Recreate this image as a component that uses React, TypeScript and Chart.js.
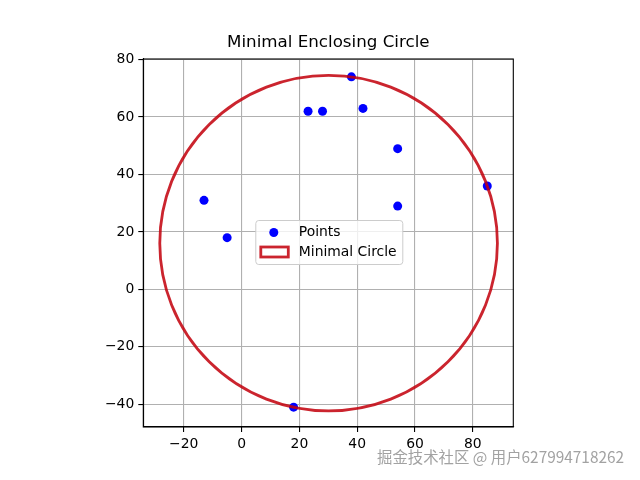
import { useEffect, useRef } from "react";
import { Chart, registerables } from "chart.js";

Chart.register(...registerables);

// scatter points
const pointsX = [-13, -5, 18, 23, 28, 38, 42, 54, 54, 85];
const pointsY = [31, 18, -41, 62, 62, 74, 63, 49, 29, 36];

// the enclosing circle (data units)
const circleCenter = [30.1, 16.1];
const circleRadius = 58.4;

const xTicks = [-20, 0, 20, 40, 60, 80];
const yTicks = [-40, -20, 0, 20, 40, 60, 80];
const xRange = [-34, 94];
const yRange = [-47.9, 80.2];

const titleText = "Minimal Enclosing Circle";
const legendLabels = ["Points", "Minimal Circle"];
const watermark = "掘金技术社区 @ 用户627994718262";

const pointColor = "#0000ff";
const circleColor = "rgba(195, 0, 12, 0.86)";
const font = "'DejaVu Sans', sans-serif";

const fmt = (v: number) => (v < 0 ? "\u2212" + Math.abs(v) : String(v));

const circlePlugin = {
  id: "enclosingCircle",
  afterDatasetsDraw(chart: any) {
    const { ctx, scales } = chart;
    const cx = scales.x.getPixelForValue(circleCenter[0]);
    const cy = scales.y.getPixelForValue(circleCenter[1]);
    const rx = Math.abs(scales.x.getPixelForValue(circleCenter[0] + circleRadius) - cx);
    const ry = Math.abs(scales.y.getPixelForValue(circleCenter[1] + circleRadius) - cy);
    ctx.save();
    ctx.beginPath();
    ctx.ellipse(cx, cy, rx, ry, 0, 0, Math.PI * 2);
    ctx.strokeStyle = circleColor;
    ctx.lineWidth = 2.8;
    ctx.stroke();
    ctx.restore();
  },
};

// full box around the axes plus the title centred over them
const framePlugin = {
  id: "frame",
  afterDraw(chart: any) {
    const { ctx, chartArea } = chart;
    ctx.save();
    ctx.strokeStyle = "#000";
    ctx.lineWidth = 1.1;
    ctx.strokeRect(
      chartArea.left,
      chartArea.top,
      chartArea.right - chartArea.left,
      chartArea.bottom - chartArea.top
    );
    ctx.fillStyle = "#000";
    ctx.font = `16.7px ${font}`;
    ctx.textAlign = "center";
    ctx.textBaseline = "middle";
    ctx.fillText(titleText, (chartArea.left + chartArea.right) / 2, 43);
    ctx.restore();
  },
};

const legendPlugin = {
  id: "mplLegend",
  afterDraw(chart: any) {
    const { ctx, chartArea } = chart;
    const left = chartArea.left + 112;
    const top = chartArea.top + 161;
    ctx.save();
    ctx.beginPath();
    ctx.roundRect(left + 0.5, top + 0.5, 147, 44, 3);
    ctx.fillStyle = "rgba(255,255,255,0.8)";
    ctx.fill();
    ctx.strokeStyle = "#cccccc";
    ctx.lineWidth = 1;
    ctx.stroke();

    ctx.beginPath();
    ctx.arc(left + 18.5, top + 12.5, 4.5, 0, Math.PI * 2);
    ctx.fillStyle = pointColor;
    ctx.fill();

    ctx.strokeStyle = circleColor;
    ctx.lineWidth = 2.8;
    ctx.strokeRect(left + 5.5, top + 27, 27.5, 10);

    ctx.fillStyle = "#000";
    ctx.font = `13.9px ${font}`;
    ctx.textBaseline = "middle";
    ctx.fillText(legendLabels[0], left + 43.5, top + 12.5);
    ctx.fillText(legendLabels[1], left + 43.5, top + 32.5);
    ctx.restore();
  },
};

const watermarkPlugin = {
  id: "watermark",
  afterDraw(chart: any) {
    const { ctx } = chart;
    ctx.save();
    ctx.font = "15.4px 'Noto Sans CJK SC', sans-serif";
    ctx.textBaseline = "middle";
    ctx.fillStyle = "#a2a2a2";
    ctx.fillText(watermark, 377, 457);
    ctx.restore();
  },
};

const App = () => {
  const chartRef = useRef<Chart | null>(null);
  const chartCanvas = useRef<HTMLCanvasElement | null>(null);

  useEffect(() => {
    if (chartRef.current) {
      chartRef.current.destroy();
    }

    const context = chartCanvas.current?.getContext("2d");
    if (context) {
      const axis = (ticks: number[], range: number[], size: number, isY: boolean) => ({
        type: "linear" as const,
        min: range[0],
        max: range[1],
        afterBuildTicks: (a: any) => {
          a.ticks = ticks.map((v) => ({ value: v }));
        },
        afterFit: (a: any) => {
          if (isY) a.width = size;
          else a.height = size;
        },
        ticks: {
          color: "#000",
          padding: 4,
          font: { family: font, size: 13.9 },
          callback: (v: any) => fmt(Number(v)),
        },
        grid: {
          color: "#b0b0b0",
          lineWidth: 1.1,
          tickColor: "#000",
          tickLength: 5,
          tickWidth: 1.1,
        },
        border: { color: "#000", width: 1.1 },
      });

      chartRef.current = new Chart(context, {
        type: "scatter",
        data: {
          datasets: [
            {
              label: legendLabels[0],
              data: pointsX.map((x, i) => ({ x, y: pointsY[i] })),
              backgroundColor: pointColor,
              borderWidth: 0,
              pointRadius: 4.5,
              pointHoverRadius: 4.5,
            },
          ],
        },
        options: {
          animation: false,
          responsive: false,
          devicePixelRatio: 1,
          layout: { padding: { left: 0, right: 126.7, top: 59, bottom: 0 } },
          plugins: {
            legend: { display: false },
            tooltip: { enabled: false },
            title: { display: false },
          },
          scales: {
            x: axis(xTicks, xRange, 53, false),
            y: axis(yTicks, yRange, 143.3, true),
          },
        },
        plugins: [circlePlugin, framePlugin, legendPlugin, watermarkPlugin],
      });
    }

    return () => {
      if (chartRef.current) {
        chartRef.current.destroy();
        chartRef.current = null;
      }
    };
  }, []);

  return (
    <div style={{ position: "fixed", left: 0, top: 0, width: 640, height: 480, background: "#fff" }}>
      <canvas ref={chartCanvas} width={640} height={480}></canvas>
    </div>
  );
};

export default App;
